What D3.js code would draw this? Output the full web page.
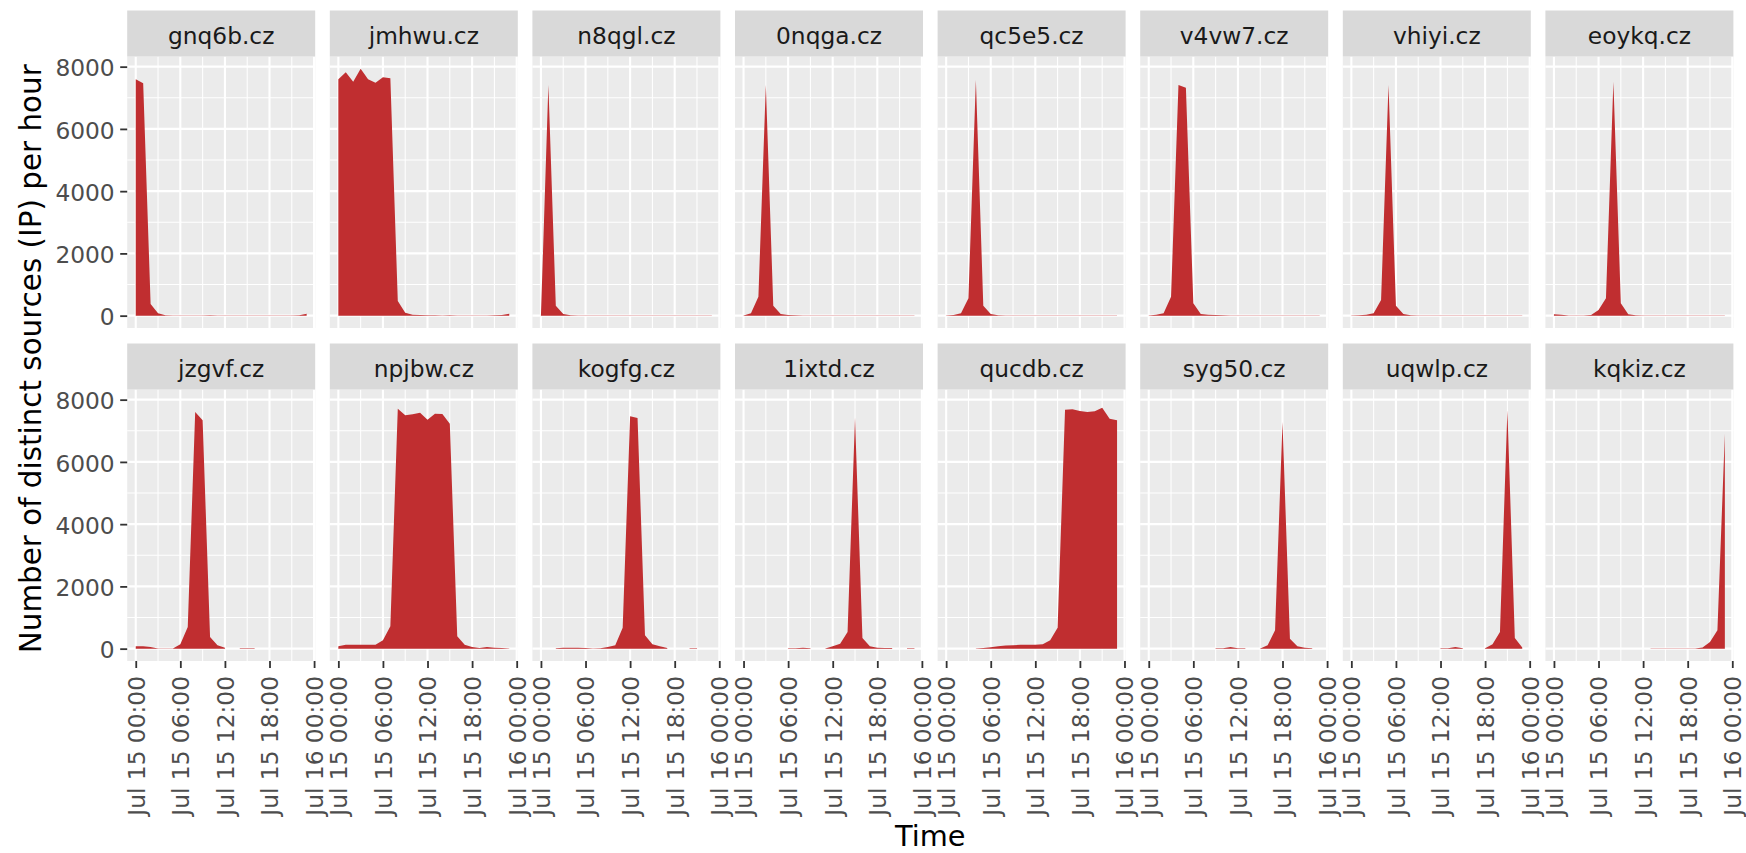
<!DOCTYPE html>
<html>
<head>
<meta charset="utf-8">
<script src="https://cdn.jsdelivr.net/npm/d3@7"></script>
<style>
  html, body { margin: 0; padding: 0; background: #ffffff; }
  svg { display: block; }
</style>
</head>
<body>
<svg id="chart" width="1746" height="853"></svg>
<script>
// ---------------- DATA ----------------
const hours = [0, 1, 2, 3, 4, 5, 6, 7, 8, 9, 10, 11, 12, 13, 14, 15, 16, 17, 18, 19, 20, 21, 22, 23];

const domains = [
  "gnq6b.cz", "jmhwu.cz", "n8qgl.cz", "0nqga.cz", "qc5e5.cz", "v4vw7.cz", "vhiyi.cz", "eoykq.cz",
  "jzgvf.cz", "npjbw.cz", "kogfg.cz", "1ixtd.cz", "qucdb.cz", "syg50.cz", "uqwlp.cz", "kqkiz.cz"
];

// distinct source IPs per hour (null = no data)
const gnq6b = [7593, 7465, 375, 75, 15, 5, 5, 5, 5, 8, 15, 5, 5, 5, 5, 5, 5, 5, 5, 5, 5, 5, 12, 60];
const jmhwu = [7593, 7818, 7518, 7930, 7593, 7486, 7658, 7625, 471, 96, 32, 21, 12, 10, 8, 10, 8, 8, 8, 8, 8, 10, 20, 64];
const n8qgl = [10, 7411, 321, 54, 10, 5, 5, 5, 5, 5, 5, 5, 5, 5, 5, 5, 5, 5, 5, 5, 5, 5, 5, 5];
const nqga0 = [5, 75, 610, 7411, 321, 54, 20, 10, 5, 5, 5, 5, 5, 5, 5, 5, 5, 5, 5, 5, 5, 5, 5, 5];
const qc5e5 = [5, 20, 75, 557, 7572, 321, 54, 10, 5, 5, 5, 5, 5, 5, 5, 5, 5, 5, 5, 5, 5, 5, 5, 5];
const v4vw7 = [5, 32, 75, 610, 7411, 7326, 396, 54, 32, 21, 15, 8, 5, 5, 5, 5, 5, 5, 5, 5, 5, 5, 5, 5];
const vhiyi = [5, 10, 32, 75, 500, 7411, 321, 54, 10, 5, 5, 5, 5, 5, 5, 5, 5, 5, 5, 5, 5, 5, 5, 5];
const eoykq = [43, 32, 5, 5, 5, 21, 180, 557, 7518, 396, 43, 10, 5, 5, 5, 5, 5, 5, 5, 5, 5, 5, 5, 5];
const jzgvf = [75, 75, 54, 5, 5, 5, 139, 696, 7604, 7336, 375, 107, 32, null, 15, 15, 15, null, null, null, null, null, null, null];
const npjbw = [75, 128, 128, 128, 128, 128, 268, 718, 7711, 7497, 7529, 7583, 7358, 7551, 7540, 7229, 396, 128, 54, 21, 54, 32, 21, 5];
const kogfg = [null, null, 10, 30, 30, 30, 20, 5, 10, 54, 107, 675, 7465, 7411, 428, 139, 75, 20, null, null, 15, 15, null, null];
const ixtd1 = [null, null, null, null, null, null, 10, 15, 30, 10, null, 5, 75, 160, 535, 7422, 343, 75, 32, 20, 20, null, 10, 10];
const qucdb = [null, null, null, null, 5, 20, 45, 75, 100, 110, 125, 125, 125, 139, 268, 675, 7679, 7690, 7636, 7604, 7626, 7743, 7390, 7336];
const syg50 = [null, null, null, null, null, null, null, null, null, 10, 10, 54, 15, 10, null, 5, 107, 590, 7283, 321, 75, 32, 10, null];
const uqwlp = [null, null, null, null, null, null, null, null, null, null, null, null, 10, 10, 54, 10, null, null, 10, 139, 535, 7658, 343, 40];
const kqkiz = [null, null, null, null, null, null, null, null, null, null, null, null, null, 5, 5, 5, 5, 5, 5, 5, 40, 214, 590, 6908];

const seriesByDomain = {
  "gnq6b.cz": gnq6b, "jmhwu.cz": jmhwu, "n8qgl.cz": n8qgl, "0nqga.cz": nqga0,
  "qc5e5.cz": qc5e5, "v4vw7.cz": v4vw7, "vhiyi.cz": vhiyi, "eoykq.cz": eoykq,
  "jzgvf.cz": jzgvf, "npjbw.cz": npjbw, "kogfg.cz": kogfg, "1ixtd.cz": ixtd1,
  "qucdb.cz": qucdb, "syg50.cz": syg50, "uqwlp.cz": uqwlp, "kqkiz.cz": kqkiz
};

const xTickHours = [0, 6, 12, 18, 24];
const xTickLabels = ["Jul 15 00:00", "Jul 15 06:00", "Jul 15 12:00", "Jul 15 18:00", "Jul 16 00:00"];
const xMinorHours = [3, 9, 15, 21];
const yTicks = [0, 2000, 4000, 6000, 8000];
const yMinorTicks = [1000, 3000, 5000, 7000];

const xTitle = "Time";
const yTitle = "Number of distinct sources (IP) per hour";

// ---------------- LAYOUT ----------------
const FONT = "'DejaVu Sans', 'Noto Sans', sans-serif";
const nCols = 8;
const left0 = 127.2, stride = 202.6, pw = 188, ph = 271.5;
const rowPanelTop = [56.5, 389.5];
const stripH = 46;
const fillColor = "#C02E30";

const svg = d3.select("#chart");
svg.append("rect").attr("width", 1746).attr("height", 853).attr("fill", "#ffffff");

// scales (ggplot-like 5% expansion)
const xExt = d3.extent(hours);
const xPad = (xExt[1] - xExt[0]) * 0.05;
const x = d3.scaleLinear().domain([xExt[0] - xPad, xExt[1] + xPad]).range([0, pw]);

const allVals = domains.flatMap(d => seriesByDomain[d].filter(v => v != null));
const yMaxData = d3.max(allVals);
const yPad = yMaxData * 0.05;
const y = d3.scaleLinear().domain([0 - yPad, yMaxData + yPad]).range([ph, 0]);

const area = d3.area()
  .defined(d => d.v != null)
  .x(d => x(d.h))
  .y0(y(0))
  .y1(d => y(d.v));

domains.forEach((dom, i) => {
  const row = Math.floor(i / nCols), col = i % nCols;
  const px = left0 + col * stride;
  const py = rowPanelTop[row];
  const g = svg.append("g").attr("transform", `translate(${px},${py})`);

  // strip
  svg.append("rect")
    .attr("x", px).attr("y", py - stripH).attr("width", pw).attr("height", stripH)
    .attr("fill", "#D9D9D9");
  svg.append("text")
    .attr("x", px + pw / 2).attr("y", py - stripH / 2 + 10)
    .attr("text-anchor", "middle")
    .attr("font-family", FONT).attr("font-size", 23.3)
    .attr("fill", "#1A1A1A")
    .text(dom);

  // panel bg
  g.append("rect").attr("width", pw).attr("height", ph).attr("fill", "#EBEBEB");

  // minor grid
  g.selectAll(".ymin").data(yMinorTicks).enter().append("line")
    .attr("x1", 0).attr("x2", pw).attr("y1", d => y(d)).attr("y2", d => y(d))
    .attr("stroke", "#ffffff").attr("stroke-width", 1.05);
  g.selectAll(".xmin").data(xMinorHours).enter().append("line")
    .attr("y1", 0).attr("y2", ph).attr("x1", d => x(d)).attr("x2", d => x(d))
    .attr("stroke", "#ffffff").attr("stroke-width", 1.05);
  // major grid
  g.selectAll(".ymaj").data(yTicks).enter().append("line")
    .attr("x1", 0).attr("x2", pw).attr("y1", d => y(d)).attr("y2", d => y(d))
    .attr("stroke", "#ffffff").attr("stroke-width", 2.1);
  g.selectAll(".xmaj").data(xTickHours).enter().append("line")
    .attr("y1", 0).attr("y2", ph).attr("x1", d => x(d)).attr("x2", d => x(d))
    .attr("stroke", "#ffffff").attr("stroke-width", 2.1);

  // area
  const data = hours.map((h, k) => ({ h: h, v: seriesByDomain[dom][k] }));
  g.append("path").datum(data).attr("d", area).attr("fill", fillColor);

  // y axis on first column
  if (col === 0) {
    const yAxis = d3.axisLeft(y).tickValues(yTicks).tickSize(7).tickPadding(5.5).tickFormat(d3.format("d"));
    const ga = g.append("g").call(yAxis);
    ga.select(".domain").remove();
    ga.selectAll(".tick line").attr("stroke", "#333333").attr("stroke-width", 1.8);
    ga.selectAll(".tick text")
      .attr("font-family", FONT).attr("font-size", 23.3).attr("fill", "#4D4D4D")
      .attr("dy", "0.39em");
  }
  // x axis on bottom row
  if (row === 1) {
    const xAxis = d3.axisBottom(x).tickValues(xTickHours).tickSize(7)
      .tickFormat((d, k) => xTickLabels[k]);
    const gx = g.append("g").attr("transform", `translate(0,${ph})`).call(xAxis);
    gx.select(".domain").remove();
    gx.selectAll(".tick line").attr("stroke", "#333333").attr("stroke-width", 1.8);
    gx.selectAll(".tick text")
      .attr("font-family", FONT).attr("font-size", 23.3).attr("fill", "#4D4D4D")
      .attr("text-anchor", "end")
      .attr("transform", "translate(0,15) rotate(-90)")
      .attr("x", 0).attr("y", 0).attr("dy", "0.36em");
  }
});

// axis titles
svg.append("text")
  .attr("x", (left0 + left0 + 7 * stride + pw) / 2).attr("y", 846)
  .attr("text-anchor", "middle")
  .attr("font-family", FONT).attr("font-size", 28.8).attr("fill", "#000000")
  .text(xTitle);

svg.append("text")
  .attr("transform", `translate(41,${(rowPanelTop[0] + rowPanelTop[1] + ph) / 2}) rotate(-90)`)
  .attr("text-anchor", "middle")
  .attr("font-family", FONT).attr("font-size", 29.4).attr("fill", "#000000")
  .text(yTitle);
</script>
</body>
</html>
